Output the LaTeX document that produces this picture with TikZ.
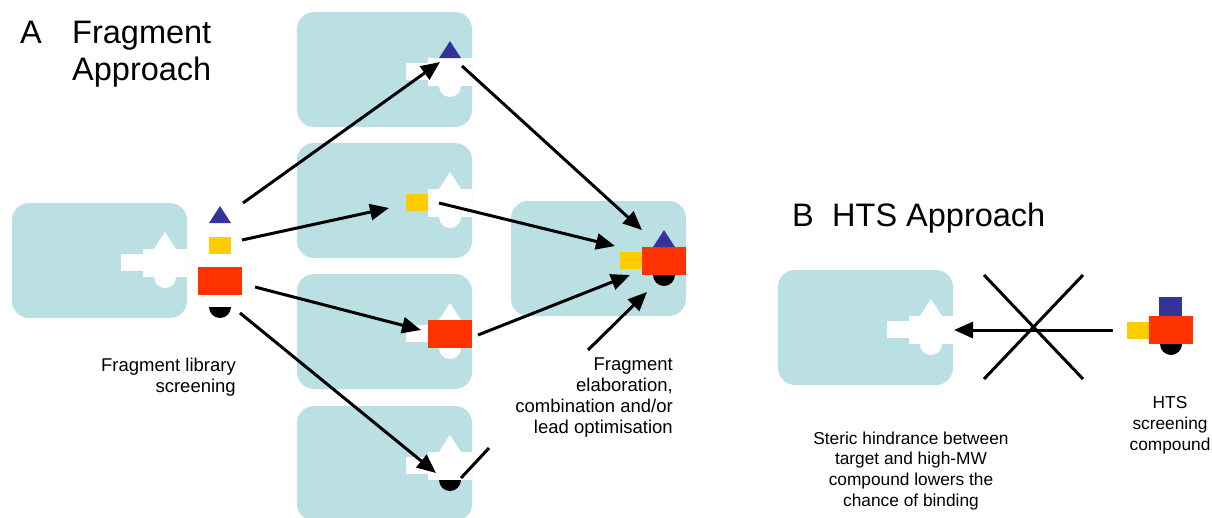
\documentclass[tikz,border=0pt]{standalone}
\usepackage{fontspec}
\setmainfont{Liberation Sans}
\usetikzlibrary{arrows.meta}
\definecolor{Pocket}{HTML}{BBE0E3}
\definecolor{FragBlue}{HTML}{333399}
\definecolor{FragYellow}{HTML}{FFCC00}
\definecolor{FragRed}{HTML}{FF3300}
% target protein with its binding pocket, #1/#2 = top left corner
\newcommand{\target}[2]{%
  \fill[Pocket,rounded corners=17pt] (#1,#2) rectangle ++(175,115);
  \fill[white] (#1+109,#2+51) rectangle ++(22,17);
  \fill[white] (#1+131,#2+46) rectangle ++(44,28);
  \fill[white] (#1+142,#2+46) -- (#1+153,#2+29) -- (#1+164,#2+46) -- cycle;
  \fill[white] (#1+142,#2+74) arc[start angle=180,end angle=360,radius=11pt] -- cycle;
}
\newcommand{\fragtri}[2]{\fill[FragBlue] (#1-11,#2) -- (#1,#2-17) -- (#1+11,#2) -- cycle;}
\newcommand{\fragsq}[2]{\fill[FragYellow] (#1,#2) rectangle ++(22,17);}
\newcommand{\fragred}[2]{\fill[FragRed] (#1,#2) rectangle ++(44,28);}
\newcommand{\fragcap}[2]{\fill[black] (#1-11,#2) arc[start angle=180,end angle=360,radius=11pt] -- cycle;}
\tikzset{
  arr/.style={line width=3pt,-{Triangle[length=19pt,width=16pt]}},
  big/.style={inner sep=0pt,font=\fontsize{32.5}{37}\selectfont},
  small/.style={inner sep=0pt,font=\fontsize{18.5}{21}\selectfont},
  smallB/.style={inner sep=0pt,font=\fontsize{17.3}{20.7}\selectfont}
}

\begin{document}
\begin{tikzpicture}[x=1pt,y=-1pt]
        \useasboundingbox (0,0) rectangle (1212,517);
        % A: fragments
        \target{12}{203}
        \fragtri{220}{223}\fragsq{209}{237}\fragred{198}{267}\fragcap{220}{307}
        \target{297}{12}\fragtri{450}{58}
        \target{297}{143}\fragsq{406}{194}
        \target{297}{274}\fragred{428}{320}
        \target{297}{406}\fragcap{450}{480}
        \target{511}{201}
        \fragsq{620}{252}\fragred{642}{247}\fragtri{664}{247}\fragcap{664}{275}
        \coordinate (triS) at (243,203);  \coordinate (triE) at (440,62);
        \coordinate (sqS) at (242,240);   \coordinate (sqE) at (389,208);
        \coordinate (redS) at (255,287);  \coordinate (redE) at (421,330);
        \coordinate (capS) at (240,313);  \coordinate (capE) at (436,473);
        \coordinate (topS) at (462,66);   \coordinate (topE) at (642,230);
        \coordinate (midS) at (439,203);  \coordinate (midE) at (615,246);
        \coordinate (lowS) at (478,335);  \coordinate (lowE) at (630,275);
        \coordinate (elabS) at (588,350); \coordinate (elabE) at (647,292);
        \coordinate (botS) at (461,478);  \coordinate (botE) at (489,448);
        \foreach \s/\e in {triS/triE,sqS/sqE,redS/redE,capS/capE,topS/topE,midS/midE,lowS/lowE,elabS/elabE}
          {\draw[arr] (\s) -- (\e);}
        \draw[line width=3pt] (botS) -- (botE);
        \node[big,anchor=north west] (labA) at (20,20.7) {A};
        \node[big,anchor=north west,align=left] (titleA) at (72,20.7) {Fragment\\Approach};
        \node[small,anchor=north east,align=right] (screen) at (236,357.6) {Fragment library\\screening};
        \node[small,anchor=north east,align=right] (elab) at (673,357.6) {Fragment\\elaboration,\\combination and/or\\lead optimisation};
        % B: HTS
        \target{778}{270}
        \fragred{1149}{316}\fragsq{1127}{322}\fragcap{1171}{344}
        \fill[FragBlue] (1159,297) rectangle ++(23,19);
        \coordinate (htsS) at (1113,330); \coordinate (htsE) at (954,330);
        \coordinate (xa) at (984,275); \coordinate (xb) at (1083,379);
        \coordinate (xc) at (1083,275); \coordinate (xd) at (984,379);
        \draw[arr] (htsS) -- (htsE);
        \draw[line width=3pt] (xa) -- (xb) (xc) -- (xd);
        \node[big,anchor=base west] (labB) at (792,226) {B};
        \node[big,anchor=base west] (titleB) at (832,226) {HTS Approach};
        \node[smallB,anchor=north,align=center] (steric) at (911,431.5) {Steric hindrance between\\target and high-MW\\compound lowers the\\chance of binding};
        \node[smallB,anchor=north,align=center] (hts) at (1170,396.5) {HTS\\screening\\compound};
      \end{tikzpicture}
\end{document}
